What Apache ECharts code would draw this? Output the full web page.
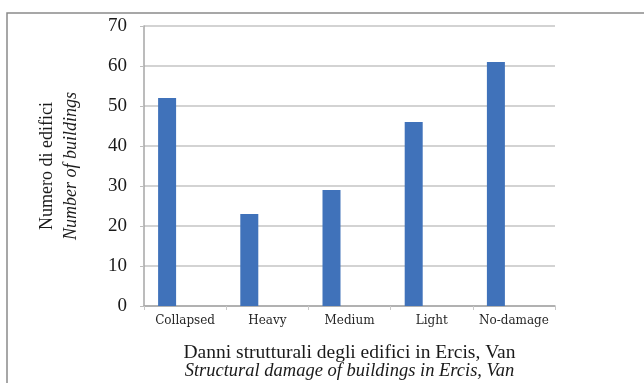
<!DOCTYPE html>
<html>
<head>
<meta charset="utf-8">
<script src="https://cdn.jsdelivr.net/npm/echarts@6/dist/echarts.min.js"></script>
<style>
  html, body { margin: 0; padding: 0; background: #fff; }
  #chart { width: 644px; height: 383px; }
</style>
</head>
<body>
<div id="chart"></div>
<script>
// Damage classes on the x axis
const categories = ['Collapsed', 'Heavy', 'Medium', 'Light', 'No-damage'];
// Number of buildings in each damage class
const buildings = [52, 23, 29, 46, 61];
// Two unused companion series (kept empty, as in the original workbook layout)
const emptySeriesA = [null, null, null, null, null];
const emptySeriesB = [null, null, null, null, null];

const yMin = 0, yMax = 70, yStep = 10;

const xTitleIt = 'Danni strutturali degli edifici in Ercis, Van';
const xTitleEn = 'Structural damage of buildings in Ercis, Van';
const yTitleIt = 'Numero di edifici';
const yTitleEn = 'Number of buildings';

const serif = '"Liberation Serif", "Times New Roman", serif';

const chart = echarts.init(document.getElementById('chart'), null, { renderer: 'canvas' });

chart.setOption({
  animation: false,
  backgroundColor: '#ffffff',
  graphic: [{
    type: 'rect',
    shape: { x: 7, y: 13, width: 720, height: 420 },
    style: { fill: 'none', stroke: '#8a8a8a', lineWidth: 1.5 },
    silent: true,
    z: -1
  }],
  grid: {
    left: 144, right: 89, top: 26, bottom: 77,
    containLabel: false,
    outerBoundsMode: 'none'
  },
  xAxis: {
    type: 'category',
    data: categories,
    boundaryGap: true,
    axisLine: { lineStyle: { color: '#a6a6a6', width: 1.5 } },
    axisTick: { show: true, length: 4, lineStyle: { color: '#c8c8c8' } },
    axisLabel: {
      margin: 9,
      color: '#262626',
      fontFamily: '"DejaVu Serif", serif',
      fontSize: 12,
      interval: 0
    },
    name: '{a|' + xTitleIt + '}\n{b|' + xTitleEn + '}',
    nameLocation: 'middle',
    nameGap: 38,
    nameTextStyle: {
      align: 'center',
      verticalAlign: 'top',
      rich: {
        a: { fontFamily: serif, fontSize: 19.5, color: '#1a1a1a', lineHeight: 18 },
        b: { fontFamily: serif, fontSize: 18.5, fontStyle: 'italic', color: '#1a1a1a', lineHeight: 18 }
      }
    }
  },
  yAxis: {
    type: 'value',
    min: yMin,
    max: yMax,
    interval: yStep,
    axisLine: { show: true, lineStyle: { color: '#a6a6a6', width: 1.5 } },
    axisTick: { show: true, length: 4, lineStyle: { color: '#bdbdbd' } },
    splitLine: { show: true, lineStyle: { color: '#c4c4c4', width: 1.5 } },
    axisLabel: {
      margin: 17,
      color: '#1a1a1a',
      fontFamily: serif,
      fontSize: 19
    },
    name: '{a|' + yTitleIt + '}\n{b|' + yTitleEn + '}',
    nameLocation: 'middle',
    nameGap: 61,
    nameRotate: 90,
    nameTextStyle: {
      align: 'center',
      rich: {
        a: { fontFamily: serif, fontSize: 18, color: '#1a1a1a', lineHeight: 24 },
        b: { fontFamily: serif, fontSize: 18, fontStyle: 'italic', color: '#1a1a1a', lineHeight: 24 }
      }
    }
  },
  series: [
    {
      type: 'bar',
      data: buildings,
      barWidth: 18,
      barGap: '0%',
      itemStyle: { color: '#4072ba' }
    },
    { type: 'bar', data: emptySeriesA, barWidth: 18, barGap: '0%' },
    { type: 'bar', data: emptySeriesB, barWidth: 18, barGap: '0%' }
  ]
});
</script>
</body>
</html>
